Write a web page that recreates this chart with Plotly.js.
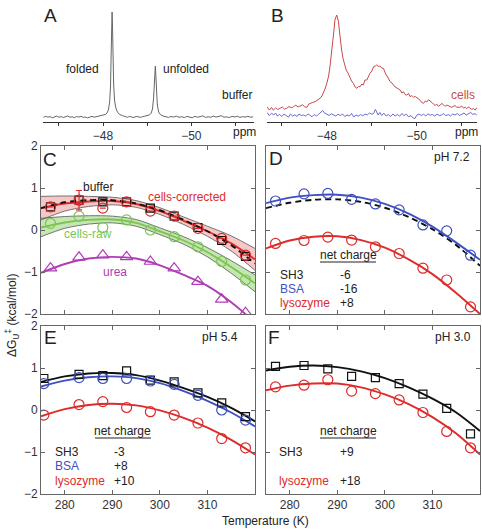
<!DOCTYPE html>
<html><head><meta charset="utf-8">
<script src="https://cdn.plot.ly/plotly-3.0.1.min.js"></script>
<style>body{margin:0;background:#fff}#g{width:482px;height:532px}</style>
</head><body><div id="g"></div>
<script>
// ---------- Data ----------
// Panel A spectrum (ppm, intensity, arbitrary units)
const ppmA = [-46.65,-46.70,-46.75,-46.80,-46.85,-46.90,-46.95,-47.00,-47.05,-47.10,-47.15,-47.20,-47.25,-47.30,-47.35,-47.40,-47.45,-47.50,-47.55,-47.60,-47.65,-47.70,-47.75,-47.80,-47.85,-47.90,-47.95,-48.00,-48.05,-48.09,-48.12,-48.15,-48.17,-48.185,-48.195,-48.205,-48.215,-48.225,-48.24,-48.26,-48.29,-48.33,-48.38,-48.44,-48.50,-48.55,-48.60,-48.65,-48.70,-48.75,-48.80,-48.85,-48.90,-48.95,-49.00,-49.05,-49.09,-49.12,-49.145,-49.16,-49.175,-49.185,-49.195,-49.21,-49.23,-49.26,-49.30,-49.36,-49.42,-49.48,-49.54,-49.60,-49.66,-49.72,-49.78,-49.84,-49.90,-49.96,-50.02,-50.08,-50.14,-50.20,-50.26,-50.32,-50.38,-50.44,-50.50,-50.56,-50.62,-50.68,-50.74,-50.80,-50.86,-50.92,-50.98,-51.04,-51.10,-51.16,-51.22,-51.28,-51.34,-51.40];
const intA = [4.8,5.6,4.9,5.3,4.2,5.0,5.9,4.7,5.4,4.5,5.1,6.0,4.8,5.2,4.3,5.5,4.9,5.8,4.6,5.0,4.1,5.3,5.7,4.8,5.2,5.6,6.1,6.6,7.5,9.0,12,20,36,70,98,110,95,66,38,22,14,9.5,7.5,6.4,5.5,4.7,5.6,5.0,4.4,5.7,5.1,4.6,5.4,5.8,6.2,7.0,8.8,13,24,40,54,56,48,30,17,10,7.4,6.0,5.2,4.6,5.5,4.9,5.9,4.7,5.3,4.4,5.6,5.0,4.3,5.7,4.8,5.4,6.1,4.6,5.2,4.7,5.9,4.9,5.3,6.3,4.8,5.1,4.5,5.6,5.0,5.8,4.6,5.3,4.9,5.7,4.8,5.2];

// Panel B spectra
const ppmBcells = [-46.67,-46.72,-46.77,-46.81,-46.86,-46.91,-46.96,-47.01,-47.06,-47.11,-47.16,-47.21,-47.26,-47.31,-47.36,-47.41,-47.46,-47.51,-47.56,-47.60,-47.63,-47.68,-47.74,-47.80,-47.85,-47.89,-47.92,-47.96,-48.00,-48.04,-48.07,-48.10,-48.13,-48.16,-48.18,-48.22,-48.24,-48.26,-48.28,-48.30,-48.33,-48.36,-48.40,-48.43,-48.47,-48.52,-48.55,-48.59,-48.63,-48.67,-48.70,-48.74,-48.78,-48.81,-48.85,-48.89,-48.93,-48.96,-49.00,-49.04,-49.08,-49.11,-49.15,-49.18,-49.22,-49.26,-49.30,-49.33,-49.37,-49.41,-49.45,-49.48,-49.52,-49.56,-49.60,-49.63,-49.67,-49.70,-49.74,-49.78,-49.82,-49.85,-49.89,-49.93,-49.97,-50.00,-50.04,-50.07,-50.11,-50.15,-50.19,-50.22,-50.26,-50.30,-50.34,-50.37,-50.41,-50.44,-50.48,-50.52,-50.56,-50.59,-50.63,-50.67,-50.71,-50.74,-50.78,-50.81,-50.85,-50.89,-50.96,-51.00,-51.04,-51.08,-51.11,-51.15,-51.19,-51.22,-51.26,-51.30,-51.34,-51.37];
const intBcells = [15.3,12.0,14.5,11.8,14.0,12.5,13.7,15.0,12.8,13.7,15.5,14.2,15.3,16.8,15.0,16.0,17.2,15.2,14.7,18.0,18.7,19.5,20.3,22.0,23.7,26,28.7,33,38.7,46,55.3,66,78.7,92,102,107,104,100.3,91,82,72,63.7,57,52,49,43.7,41,38.7,35,33.7,35.5,35.3,38,37,42,42,46,48.7,51,55.3,56,57,55.5,56,54,53.7,49,47,43,40.3,39,37,35,34,32.5,32,29,30.3,27.5,27,28.5,25.3,26.5,24.7,25.5,24.7,23,22,19.5,18.7,21,20,22.3,21.3,19.5,18,16.5,18,15.8,17,18.5,17.5,15.6,17,16,16,14.6,15.5,16.5,14.8,14.7,16,13.8,14.8,13.5,15,13.2,12.7,13.3,12,14.5,15];
const ppmBbuf = [-46.67,-46.72,-46.77,-46.82,-46.86,-46.90,-46.95,-47.00,-47.05,-47.10,-47.15,-47.19,-47.24,-47.29,-47.34,-47.38,-47.43,-47.48,-47.53,-47.58,-47.62,-47.67,-47.72,-47.77,-47.82,-47.87,-47.91,-47.95,-48.00,-48.05,-48.10,-48.15,-48.20,-48.25,-48.30,-48.35,-48.40,-48.45,-48.50,-48.55,-48.60,-48.65,-48.70,-48.75,-48.80,-48.85,-48.90,-48.95,-49.00,-49.04,-49.08,-49.11,-49.14,-49.18,-49.22,-49.27,-49.32,-49.37,-49.42,-49.47,-49.52,-49.57,-49.62,-49.67,-49.72,-49.77,-49.82,-49.87,-49.92,-49.96,-50.00,-50.05,-50.10,-50.15,-50.20,-50.25,-50.30,-50.35,-50.40,-50.45,-50.50,-50.55,-50.60,-50.65,-50.70,-50.75,-50.80,-50.85,-50.90,-50.95,-51.00,-51.05,-51.10,-51.15,-51.20,-51.25,-51.30,-51.34,-51.37];
const intBbuf = [9.5,6.5,8.8,7.0,9.0,6.0,7.5,5.5,8.0,6.2,4.8,8.0,6.0,7.2,5.5,8.0,6.5,7.0,5.8,8.2,6.5,5.2,7.5,6.0,7.8,9.5,11.5,9.0,8.0,6.5,8.2,7.0,6.0,7.8,6.5,8.0,5.5,7.0,6.0,8.5,5.0,7.0,5.8,7.5,6.2,8.0,7.0,9.0,7.8,8.5,12.5,10.0,7.0,9.5,6.5,8.8,6.0,7.5,5.5,8.0,6.0,7.5,5.8,8.5,6.5,7.8,5.2,6.5,4.0,3.5,6.8,8.0,6.5,7.8,6.0,8.2,6.8,7.5,6.0,8.0,6.5,7.0,8.5,6.2,7.5,6.0,8.0,7.0,8.5,6.5,7.5,9.0,7.0,8.0,9.5,7.5,8.5,6.5,5.5];

// Temperatures (K)
const tempPts = [277,283,288,293,298,303,308,313,318];
const tempPtsE = [275.6,283,288,293,298,303,308,313,318];
const tempFit = [275,280,285,290,295,300,305,310,315,320];

// Panel C
const cBufferPts = [0.55,0.71,0.67,0.67,0.52,0.33,0.06,-0.25,-0.63];
const cBufferFit = [0.52,0.66,0.71,0.71,0.63,0.47,0.24,-0.03,-0.36,-0.80];
const cCorrPts = [0.55,0.71,0.52,0.67,0.45,0.33,0.04,-0.20,-0.60];
const cCorrErr = [0,0.23,0,0,0,0,0,0,0];
const cCorrFit = [0.52,0.63,0.68,0.69,0.62,0.45,0.22,-0.03,-0.32,-0.70];
const cCorrBand = [0.28,0.18,0.12,0.09,0.08,0.08,0.09,0.12,0.18,0.26];
const cRawPts = [0.16,0.33,0.06,0.24,0.00,-0.16,-0.40,-0.75,-1.19];
const cRawFit = [0.06,0.18,0.24,0.25,0.17,-0.03,-0.25,-0.53,-0.88,-1.27];
const cRawBand = [0.22,0.14,0.10,0.08,0.08,0.08,0.09,0.11,0.15,0.20];
const cUreaPts = [-0.91,-0.65,-0.60,-0.64,-0.75,-0.91,-1.23,-1.65,-1.97];
const cUreaFit = [-1.02,-0.81,-0.68,-0.64,-0.68,-0.84,-1.07,-1.33,-1.72,-2.2];

// Panel D (pH 7.2)
const dBsaPts = [0.69,0.86,0.87,0.73,0.62,0.48,0.12,-0.02,-0.60];
const dBsaFit = [0.64,0.77,0.83,0.84,0.77,0.62,0.39,0.08,-0.30,-0.71];
const dSh3Fit = [0.52,0.65,0.72,0.73,0.67,0.53,0.31,0.02,-0.36,-0.85];
const dLysPts = [-0.32,-0.25,-0.17,-0.24,-0.40,-0.56,-0.91,-1.19,-1.83];
const dLysFit = [-0.44,-0.25,-0.16,-0.15,-0.24,-0.42,-0.70,-1.05,-1.50,-2.0];

// Panel E (pH 5.4)
const eSh3Pts = [0.75,0.85,0.82,0.93,0.71,0.67,0.41,0.17,-0.16];
const eBsaPts = [0.63,0.77,0.75,0.75,0.69,0.61,0.35,0.00,-0.24];
const eLysPts = [-0.12,0.13,0.20,0.06,-0.04,-0.12,-0.31,-0.68,-0.90];
const eSh3Fit = [0.67,0.80,0.87,0.88,0.83,0.70,0.52,0.31,0.05,-0.27];
const eBsaFit = [0.56,0.70,0.78,0.80,0.76,0.64,0.45,0.22,-0.06,-0.39];
const eLysFit = [-0.15,0.02,0.12,0.15,0.11,-0.01,-0.19,-0.42,-0.71,-1.06];

// Panel F (pH 3.0)
const fSh3Pts = [1.04,1.06,0.98,0.80,0.77,0.63,0.38,0.04,-0.57];
const fLysPts = [0.55,0.59,0.72,0.45,0.39,0.24,-0.06,-0.51,-0.90];
const fSh3Fit = [0.94,1.03,1.06,1.02,0.92,0.76,0.54,0.27,-0.06,-0.50];
const fLysFit = [0.47,0.58,0.63,0.63,0.54,0.37,0.14,-0.17,-0.56,-1.06];

// Tick values
const ppmTickVals = [-48,-50];
const tTickVals = [280,290,300,310];
const gTickVals = [-2,-1,0,1,2];

// ---------- Styling ----------
const W = 482, H = 532;
const RED = '#dd2b2b', BLUE = '#3e50c2', BLACK = '#111111', GREEN = '#7cc552', PURPLE = '#b03cb6';
const FONT = 'Liberation Sans, Arial, Helvetica, sans-serif';
const px = x => x / W, py = y => 1 - y / H;

const traces = [];
function line(xa, ya, x, y, color, dash, width) {
  traces.push({x, y, xaxis: xa, yaxis: ya, mode: 'lines', type: 'scatter', hoverinfo: 'skip',
    line: {color, width: width || 1.9, dash: dash || 'solid', shape: 'spline', smoothing: 0.8}});
}
function spec(xa, ya, x, y, color) {
  traces.push({x, y, xaxis: xa, yaxis: ya, mode: 'lines', type: 'scatter', hoverinfo: 'skip',
    line: {color, width: 1}});
}
function pts(xa, ya, x, y, color, symbol, size, err) {
  const t = {x, y, xaxis: xa, yaxis: ya, mode: 'markers', type: 'scatter', hoverinfo: 'skip',
    marker: {symbol, size: size || 10, color, line: {color, width: 1.2}}};
  if (err) t.error_y = {type: 'data', array: err, visible: true, color, thickness: 1.2, width: 3};
  traces.push(t);
}
function band(xa, ya, x, mid, half, fill) {
  const lo = mid.map((v, i) => v - half[i]);
  const hi = mid.map((v, i) => v + half[i]);
  traces.push({x, y: lo, xaxis: xa, yaxis: ya, mode: 'lines', type: 'scatter', hoverinfo: 'skip',
    line: {color: '#555', width: 0.8, shape: 'spline', smoothing: 0.8}});
  traces.push({x, y: hi, xaxis: xa, yaxis: ya, mode: 'lines', type: 'scatter', hoverinfo: 'skip',
    fill: 'tonexty', fillcolor: fill, line: {color: '#555', width: 0.8, shape: 'spline', smoothing: 0.8}});
}

// A
spec('x', 'y', ppmA, intA, '#666666');
// B
spec('x2', 'y2', ppmBbuf, intBbuf, '#6b6bd0');
spec('x2', 'y2', ppmBcells, intBcells, '#c84a4a');
// C
band('x3', 'y3', tempFit, cRawFit, cRawBand, 'rgba(125,200,85,0.45)');
band('x3', 'y3', tempFit, cCorrFit, cCorrBand, 'rgba(230,95,95,0.35)');
line('x3', 'y3', tempFit, cUreaFit, PURPLE);
line('x3', 'y3', tempFit, cRawFit, GREEN);
line('x3', 'y3', tempFit, cCorrFit, RED);
line('x3', 'y3', tempFit, cBufferFit, BLACK, '6px,4px');
pts('x3', 'y3', tempPts, cUreaPts, PURPLE, 'triangle-up-open', 11);
pts('x3', 'y3', tempPts, cRawPts, GREEN, 'circle-open', 10);
pts('x3', 'y3', tempPts, cBufferPts, BLACK, 'square-open', 8);
pts('x3', 'y3', tempPts, cCorrPts, RED, 'circle-open', 10, cCorrErr);
// D
line('x4', 'y4', tempFit, dSh3Fit, BLACK, '6px,4px');
line('x4', 'y4', tempFit, dBsaFit, BLUE);
line('x4', 'y4', tempFit, dLysFit, RED);
pts('x4', 'y4', tempPts, dBsaPts, BLUE, 'circle-open', 10);
pts('x4', 'y4', tempPts, dLysPts, RED, 'circle-open', 10);
// E
line('x5', 'y5', tempFit, eBsaFit, BLUE);
line('x5', 'y5', tempFit, eSh3Fit, BLACK);
line('x5', 'y5', tempFit, eLysFit, RED);
pts('x5', 'y5', tempPtsE, eSh3Pts, BLACK, 'square-open', 8);
pts('x5', 'y5', tempPtsE, eBsaPts, BLUE, 'circle-open', 10);
pts('x5', 'y5', tempPtsE, eLysPts, RED, 'circle-open', 10);
// F
line('x6', 'y6', tempFit, fSh3Fit, BLACK);
line('x6', 'y6', tempFit, fLysFit, RED);
pts('x6', 'y6', tempPts, fSh3Pts, BLACK, 'square-open', 8);
pts('x6', 'y6', tempPts, fLysPts, RED, 'circle-open', 10);

// ---------- Axes ----------
const tickFont = {family: FONT, size: 12, color: '#333'};
function specX(d0, d1, anchor, range) {
  return {domain: [px(d0), px(d1)], anchor, range, showline: true, linecolor: '#333', linewidth: 1,
    ticks: 'outside', ticklen: 3, tickcolor: '#333', tickvals: ppmTickVals,
    minor: {tickvals: [-47, -49, -51], ticklen: 3, tickcolor: '#333'},
    showgrid: false, zeroline: false, tickfont: tickFont, fixedrange: true};
}
function specY(anchor) {
  return {domain: [py(122), py(8)], anchor, range: [0, 114], visible: false, fixedrange: true};
}
function tX(d0, d1, anchor, labels) {
  return {domain: [px(d0), px(d1)], anchor, range: [275, 320], showline: true, mirror: 'ticks', linecolor: '#666',
    linewidth: 1, ticks: 'inside', ticklen: 4, tickcolor: '#666', tickvals: tTickVals, showticklabels: labels,
    showgrid: false, zeroline: false, tickfont: tickFont, fixedrange: true};
}
function gY(top, bot, anchor, labels) {
  return {domain: [py(bot), py(top)], anchor, range: [-2, 2], showline: true, mirror: 'ticks', linecolor: '#666',
    linewidth: 1, ticks: 'inside', ticklen: 4, tickcolor: '#666', tickvals: gTickVals, showticklabels: labels,
    showgrid: false, zeroline: false, tickfont: tickFont, fixedrange: true};
}

// ---------- Annotations ----------
const ann = [];
function T(text, x, y, o) {
  o = o || {};
  ann.push({text, xref: 'paper', yref: 'paper', x: px(x), y: py(y), showarrow: false,
    xanchor: o.xa || 'center', yanchor: 'middle', textangle: o.angle || 0,
    font: {family: FONT, size: o.size || 12, color: o.color || '#222'}});
}
T('A', 50, 15, {size: 19}); T('B', 277, 15, {size: 19});
T('C', 50, 159, {size: 19}); T('D', 276, 158, {size: 19});
T('E', 50, 337, {size: 19}); T('F', 274, 337, {size: 19});
T('folded', 82, 69); T('unfolded', 186, 69); T('buffer', 237, 95);
T('ppm', 244, 132); T('ppm', 466, 132);
T('cells', 463, 95, {color: '#c84a4a'});
T('buffer', 98, 187); T('cells-corrected', 187, 197, {color: RED});
T('cells-raw', 88, 234, {color: GREEN}); T('urea', 115, 272, {color: PURPLE});
T('pH 7.2', 452, 157); T('pH 5.4', 220, 337); T('pH 3.0', 453, 337);
T('net charge', 348, 255); T('net charge', 123, 431); T('net charge', 348, 431);
T('SH3', 278, 275, {xa: 'left'}); T('-6', 338, 275, {xa: 'left'});
T('BSA', 278, 289, {xa: 'left', color: BLUE}); T('-16', 338, 289, {xa: 'left'});
T('lysozyme', 278, 303, {xa: 'left', color: RED}); T('+8', 338, 303, {xa: 'left'});
T('SH3', 53, 452, {xa: 'left'}); T('-3', 112, 452, {xa: 'left'});
T('BSA', 53, 466, {xa: 'left', color: BLUE}); T('+8', 112, 466, {xa: 'left'});
T('lysozyme', 53, 481, {xa: 'left', color: RED}); T('+10', 112, 481, {xa: 'left'});
T('SH3', 277, 452, {xa: 'left'}); T('+9', 338, 452, {xa: 'left'});
T('lysozyme', 277, 481, {xa: 'left', color: RED}); T('+18', 338, 481, {xa: 'left'});
T('ΔG<sub>U</sub><sup>‡</sup> (kcal/mol)', 12, 316, {angle: -90});
T('Temperature (K)', 265, 521);

const shapes = [[320, 376, 262], [95, 151, 438], [320, 376, 438]].map(s => ({
  type: 'line', xref: 'paper', yref: 'paper', x0: px(s[0]), x1: px(s[1]), y0: py(s[2]), y1: py(s[2]),
  line: {color: '#222', width: 1}}));

const layout = {
  width: W, height: H, margin: {l: 0, r: 0, t: 0, b: 0}, showlegend: false,
  paper_bgcolor: '#fff', plot_bgcolor: 'rgba(0,0,0,0)', font: {family: FONT},
  xaxis: specX(43, 254, 'y', [-46.64, -51.42]), yaxis: specY('x'),
  xaxis2: specX(267, 477, 'y2', [-46.67, -51.34]), yaxis2: specY('x2'),
  xaxis3: tX(41, 255, 'y3', false), yaxis3: gY(146, 314, 'x3', true),
  xaxis4: tX(266, 480, 'y4', false), yaxis4: gY(146, 314, 'x4', false),
  xaxis5: tX(41, 255, 'y5', true), yaxis5: gY(326, 494, 'x5', true),
  xaxis6: tX(266, 480, 'y6', true), yaxis6: gY(326, 494, 'x6', false),
  annotations: ann, shapes
};
Plotly.newPlot('g', traces, layout, {staticPlot: true, displayModeBar: false});
</script></body></html>
